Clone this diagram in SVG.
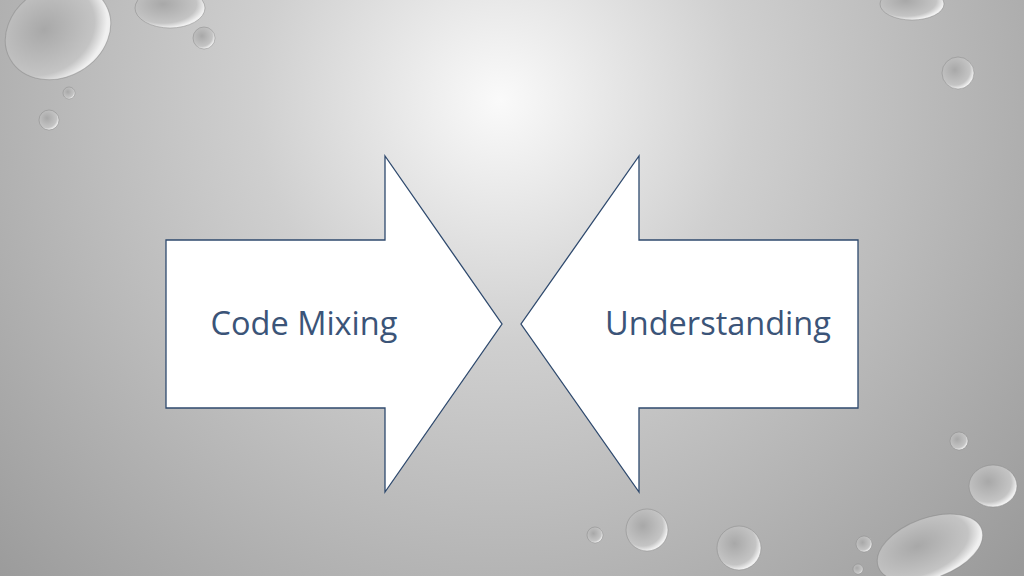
<svg xmlns="http://www.w3.org/2000/svg" width="1024" height="576" viewBox="0 0 1024 576">
<defs>
<radialGradient id="bg" cx="500" cy="100" r="700" gradientUnits="userSpaceOnUse">
<stop offset="0" stop-color="#fafafa"/>
<stop offset="0.35" stop-color="#cfcfcf"/>
<stop offset="1" stop-color="#9a9a9a"/>
</radialGradient>
<radialGradient id="drop" cx="0.4" cy="0.4" r="0.6">
<stop offset="0" stop-color="#a8a8a8"/>
<stop offset="0.8" stop-color="#c4c4c4"/>
<stop offset="1" stop-color="#f0f0f0"/>
</radialGradient>
<style>
.arrow{fill:#fff;stroke:#2f4a6e;stroke-width:1.3}
.lbl{font-family:"Open Sans","Liberation Sans",sans-serif;font-size:32.5px;fill:#3b5478;text-anchor:middle;dominant-baseline:central}
.d{fill:url(#drop);stroke:#888;stroke-opacity:0.5;stroke-width:1}
</style>
</defs>
<rect width="1024" height="576" fill="url(#bg)"/>
<g id="drops">
<ellipse class="d" cx="58" cy="32" rx="55" ry="45" transform="rotate(-30 58 32)"/>
<ellipse class="d" cx="170" cy="8" rx="35" ry="20"/>
<circle class="d" cx="204" cy="38" r="11"/>
<circle class="d" cx="69" cy="93" r="6"/>
<circle class="d" cx="49" cy="120" r="10"/>
<ellipse class="d" cx="912" cy="4" rx="32" ry="16"/>
<circle class="d" cx="958" cy="73" r="16"/>
<circle class="d" cx="959" cy="441" r="9"/>
<ellipse class="d" cx="993" cy="486" rx="24" ry="21"/>
<ellipse class="d" cx="930" cy="548" rx="55" ry="30" transform="rotate(-20 930 548)"/>
<circle class="d" cx="864" cy="544" r="8"/>
<circle class="d" cx="858" cy="569" r="5"/>
<circle class="d" cx="739" cy="548" r="22"/>
<circle class="d" cx="647" cy="530" r="21"/>
<circle class="d" cx="595" cy="535" r="8"/>
</g>
<g id="node-code-mixing">
<polygon class="arrow" points="166,240 385,240 385,156 502,324 385,492 385,408 166,408"/>
<text class="lbl" x="304" y="322">Code Mixing</text>
</g>
<g id="node-understanding">
<polygon class="arrow" points="858,240 639,240 639,156 521,324 639,492 639,408 858,408"/>
<text class="lbl" x="718" y="322">Understanding</text>
</g>
<g id="connectors"/>
</svg>
